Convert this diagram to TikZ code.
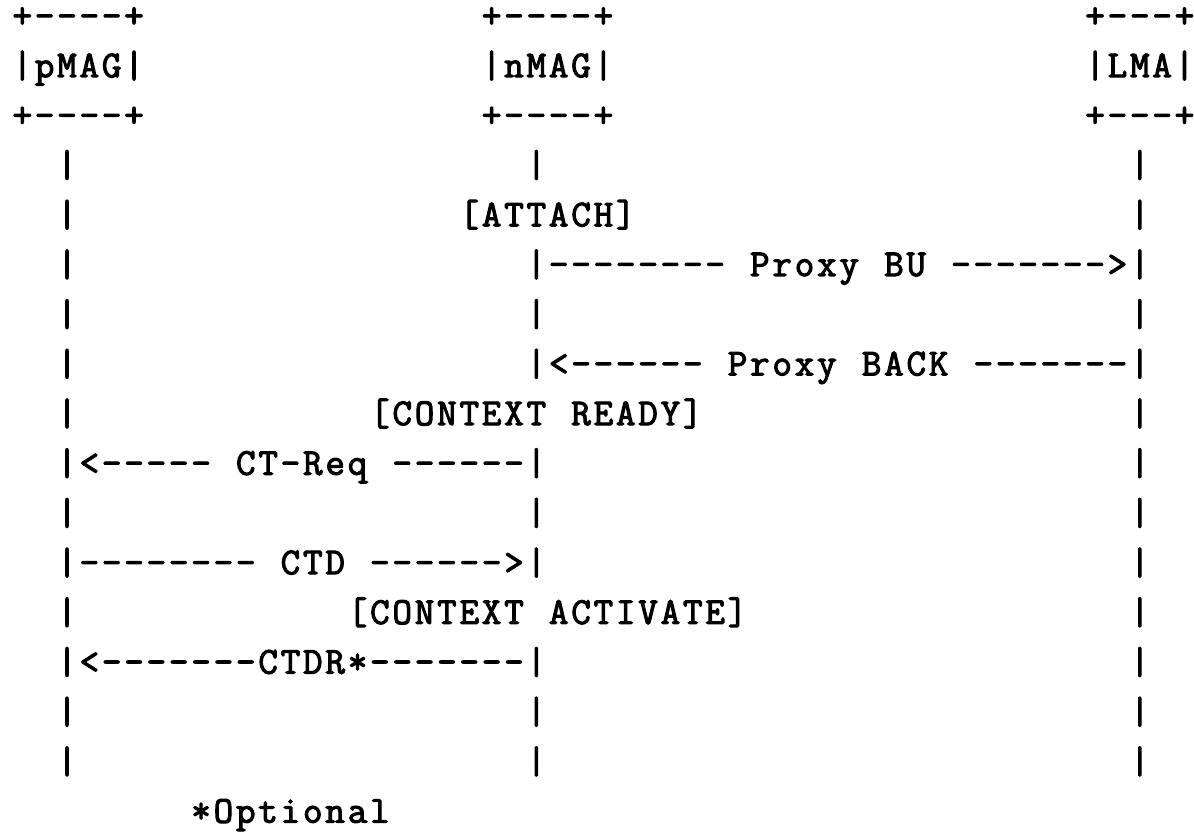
\documentclass[tikz,border=0pt]{standalone}
\usepackage{fontspec}
\newfontfamily\asciifont{Latin Modern Mono}[FakeBold=2.8]
\newlength\cw
\setlength\cw{22.35pt}
% place every character in a fixed-width cell (ASCII grid)
\def\gt#1{\ifx#1\relax\else\makebox[\cw]{#1}\expandafter\gt\fi}
\tikzset{
  ascii/.style={anchor=base west, inner sep=0pt, outer sep=0pt,
    font=\fontsize{38}{42}\selectfont\asciifont},
}
\begin{document}
\begin{tikzpicture}
\useasboundingbox (0pt,0pt) rectangle (1194pt,-834pt);
\begin{scope}[shift={(11.125pt,-27.5pt)}, x=22.35pt, y=-49.7pt]
% boxes
\node[ascii] (pmagtop) at (0,0) {\gt+----+\relax};
\node[ascii] (nmagtop) at (21,0) {\gt+----+\relax};
\node[ascii] (lmatop)  at (48,0) {\gt+---+\relax};
\node[ascii] (pmag) at (0,1) {\gt|pMAG|\relax};
\node[ascii] (nmag) at (21,1) {\gt|nMAG|\relax};
\node[ascii] (lma)  at (48,1) {\gt|LMA|\relax};
\node[ascii] (pmagbot) at (0,2) {\gt+----+\relax};
\node[ascii] (nmagbot) at (21,2) {\gt+----+\relax};
\node[ascii] (lmabot)  at (48,2) {\gt+---+\relax};
% lifelines
\foreach \r in {3,4,5,6,7,8,10,12,14,15}
  \node[ascii] (p\r) at (2,\r) {\gt|\relax};
\foreach \r in {3,6,10,14,15}
  \node[ascii] (n\r) at (23,\r) {\gt|\relax};
\foreach \r in {3,4,6,8,9,10,11,12,13,14,15}
  \node[ascii] (l\r) at (50,\r) {\gt|\relax};
% events and messages
\node[ascii] (attach) at (20,4) {\gt[ATTACH]\relax};
\node[ascii] (pbu) at (23,5) {\gt|--------~Proxy~BU~------->|\relax};
\node[ascii] (pback) at (23,7) {\gt|<------~Proxy~BACK~-------|\relax};
\node[ascii] (ready) at (16,8) {\gt[CONTEXT~READY]\relax};
\node[ascii] (ctreq) at (2,9) {\gt|<-----~CT-Req~------|\relax};
\node[ascii] (ctd) at (2,11) {\gt|--------~CTD~------>|\relax};
\node[ascii] (activate) at (15,12) {\gt[CONTEXT~ACTIVATE]\relax};
\node[ascii] (ctdr) at (2,13) {\gt|<-------CTDR*-------|\relax};
\node[ascii] (optional) at (8,16) {\gt*Optional\relax};
\end{scope}
\end{tikzpicture}
\end{document}
